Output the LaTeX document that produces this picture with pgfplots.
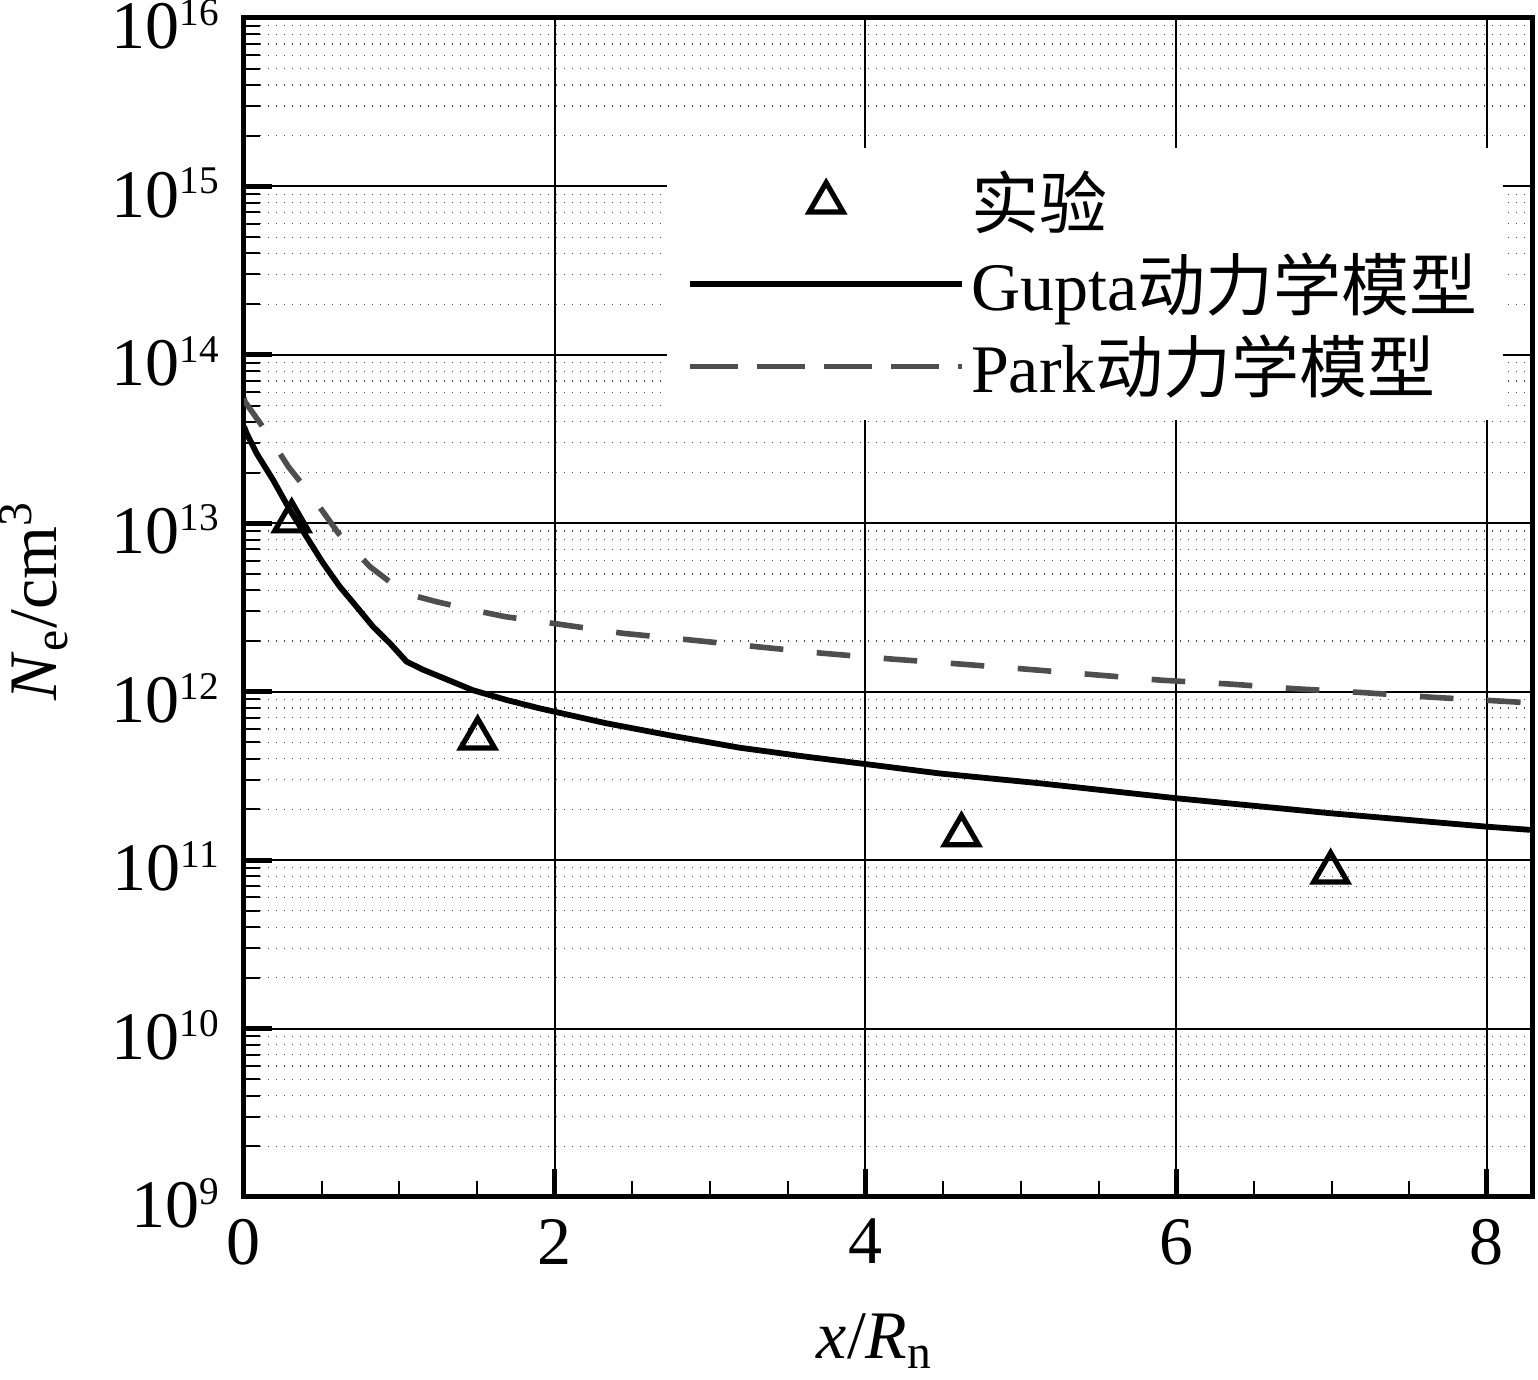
\documentclass[border=0pt]{standalone}
\usepackage{fontspec}
\setmainfont{Liberation Serif}
\newfontfamily\cjk{Noto Sans CJK SC}
\usepackage{pgfplots}
\pgfplotsset{compat=1.18}
\definecolor{parkgray}{RGB}{78,78,78}
\newcommand{\tenpow}[1]{10\raisebox{5.8pt}{\fontsize{9.8}{10}\selectfont #1}}
\begin{document}
\begin{tikzpicture}
\begin{axis}[
  name=ax,
  scale only axis, width=322pt, height=294.75pt,
  ymode=log, log basis y=10,
  xmin=0, xmax=8.29, ymin=1e9, ymax=1e16,
  font=\fontsize{17}{20}\selectfont,
  tick label style={font=\fontsize{17}{20}\selectfont},
  axis line style={line width=1.25pt},
  tick align=inside, xtick pos=bottom, ytick pos=left,
  xtick={0,2,4,6,8}, xticklabels={0,2,4,6,8},
  minor x tick num=3,
  yticklabel={\pgfmathtruncatemacro{\ex}{round(\tick)}\tenpow{\ex}},
  yticklabel style={xshift=-2.8pt, yshift=-1.6pt},
  xticklabel style={yshift=-2pt},
  major tick length=7pt, minor tick length=4pt,
  major tick style={line width=1.25pt, black},
  minor tick style={line width=0.5pt, black},
  xmajorgrids, ymajorgrids, yminorgrids,
  major grid style={line width=0.5pt, black},
  minor grid style={line width=0.3pt, black!75, dash pattern=on 0.3pt off 1.7pt},
  every axis y label/.style={at={(axis description cs:-0.1452,0.506)}, rotate=90, anchor=base},
  every axis x label/.style={at={(axis description cs:0.49,-0.1366)}, anchor=base},
  xlabel={\textit{x}/\textit{R}\textsubscript{n}},
  ylabel={\textit{N}\textsubscript{e}/cm\textsuperscript{3}},
  legend style={at={(rel axis cs:0.328,0.890)}, anchor=north west, draw=none, fill=white,
    inner xsep=5pt, inner ysep=4pt, row sep=1.6pt, font=\fontsize{17}{20}\selectfont,
    nodes={inner sep=1.5pt}},
  legend cell align=left,
  legend image code/.code={\draw[mark repeat=2,mark phase=2,#1] plot coordinates {(0pt,0pt) (34pt,0pt) (68pt,0pt)};},
]
\addplot[only marks, mark=triangle, mark size=4.9pt, mark options={line width=1.3pt, black, solid}] coordinates {
(0.307,1.03e13) (1.504,5.29e11) (4.618,1.41e11) (6.994,8.47e10)
};
\addlegendentry{{\cjk 实验}}
\addplot[black, line width=1.45pt, no marks] coordinates {
(0,3.75e13) (0.017,3.42e13) (0.080,2.61e13) (0.187,1.81e13) (0.295,1.20e13)
(0.402,8.32e12) (0.510,5.78e12) (0.616,4.21e12) (0.724,3.20e12) (0.831,2.43e12)
(0.939,1.94e12) (1.046,1.51e12) (1.153,1.35e12) (1.260,1.23e12) (1.474,1.02e12)
(1.690,8.93e11) (1.904,7.96e11) (2.333,6.49e11) (2.762,5.46e11) (3.190,4.65e11)
(3.620,4.11e11) (4.049,3.67e11) (4.478,3.27e11) (5.121,2.86e11) (6.001,2.33e11)
(6.988,1.90e11) (7.997,1.58e11) (8.29,1.51e11)
};
\addlegendentry{Gupta{\cjk 动力学模型}}
\addplot[parkgray, line width=1.4pt, no marks, dash pattern=on 8.4pt off 8.4pt,
  legend image post style={dash pattern=on 12pt off 4.75pt}] coordinates {
(0,5.55e13) (0.006,5.27e13) (0.135,3.58e13) (0.285,2.17e13) (0.446,1.41e13)
(0.607,8.73e12) (0.811,5.52e12) (1.035,3.84e12) (1.240,3.42e12) (1.476,3.05e12)
(1.680,2.79e12) (1.905,2.61e12) (2.441,2.22e12) (2.869,2.03e12) (3.299,1.85e12)
(3.728,1.69e12) (4.178,1.56e12) (4.607,1.46e12) (5.037,1.36e12) (5.476,1.26e12)
(5.905,1.17e12) (6.345,1.11e12) (6.774,1.04e12) (7.214,9.86e11) (7.643,9.27e11)
(8.071,8.81e11) (8.29,8.57e11)
};
\addlegendentry{Park{\cjk 动力学模型}}
\end{axis}
\pgfresetboundingbox
\path ([shift={(-61pt,-45.5pt)}]ax.south west) rectangle ([shift={(1.5pt,4.5pt)}]ax.north east);
\end{tikzpicture}
\end{document}
